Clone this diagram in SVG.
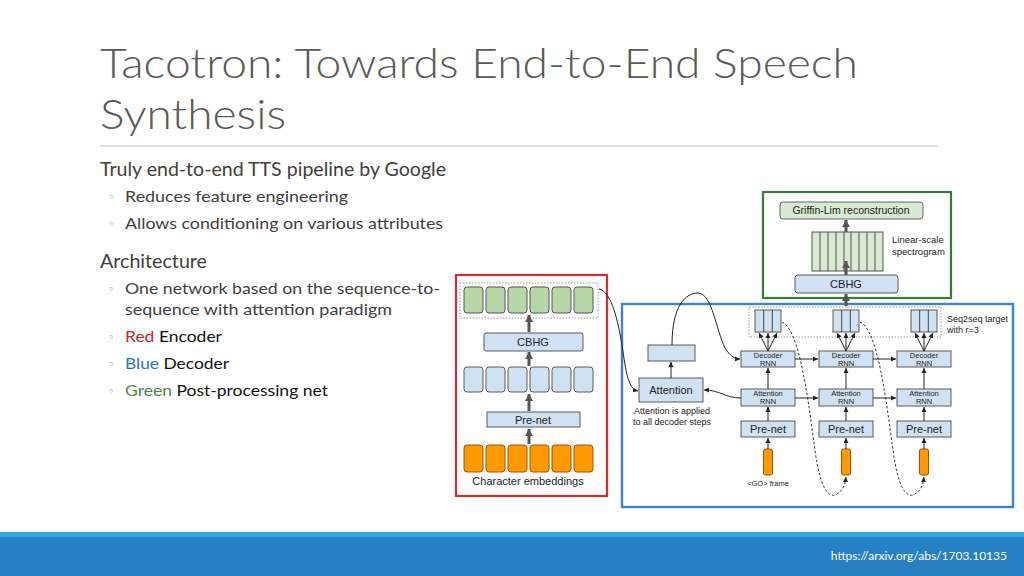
<svg xmlns="http://www.w3.org/2000/svg" width="1024" height="576" viewBox="0 0 1024 576">
<defs>
<style>
.title{font-family:Lato,"Open Sans","Liberation Sans",sans-serif;font-weight:300;font-size:42px;fill:#595959}
.b1{font-family:Lato,"Open Sans","Liberation Sans",sans-serif;font-size:18.5px;fill:#404040}
.b2{font-family:Lato,"Open Sans","Liberation Sans",sans-serif;font-size:16px;fill:#404040}
.bul{font-family:"DejaVu Sans",sans-serif;font-size:11px;fill:#7f7f7f}
.d{font-family:"Liberation Sans",Arial,sans-serif;fill:#222;text-anchor:middle}
.ds{font-family:"Liberation Sans",Arial,sans-serif;fill:#222}
.lb{fill:#cfe2f3;stroke:#5a5a5a;stroke-width:1}
.gr{fill:#b6d7a8;stroke:#555;stroke-width:1}
.lg{fill:#d9ead3;stroke:#666;stroke-width:1}
.or{fill:#ff9900;stroke:#a35200;stroke-width:1}
.thick{stroke:#555;stroke-width:3;fill:none;marker-end:url(#th)}
.thin{stroke:#222;stroke-width:1;fill:none;marker-end:url(#ah)}
.dash{stroke:#333;stroke-width:1;fill:none;stroke-dasharray:2.5,2;marker-end:url(#ah)}
.dot{fill:none;stroke:#999;stroke-width:1;stroke-dasharray:1.5,1.5}
</style>
<marker id="ah" markerWidth="6" markerHeight="6" refX="5" refY="3" orient="auto" markerUnits="userSpaceOnUse">
<path d="M0,0.5 L5,3 L0,5.5 Z" fill="#222"/>
</marker>
<marker id="th" markerWidth="8" markerHeight="8" refX="7" refY="4" orient="auto" markerUnits="userSpaceOnUse">
<path d="M0,0 L7,4 L0,8 Z" fill="#555"/>
</marker>
</defs>
<rect x="0" y="0" width="1024" height="576" fill="#ffffff"/>

<g id="title">
<text class="title" x="100" y="78" textLength="758" lengthAdjust="spacingAndGlyphs">Tacotron: Towards End-to-End Speech</text>
<text class="title" x="100" y="129" textLength="186" lengthAdjust="spacingAndGlyphs">Synthesis</text>
<line x1="100" y1="146" x2="938" y2="146" stroke="#d6d6d6" stroke-width="1.5"/>
</g>

<g id="bullets">
<text class="b1" x="100" y="176" textLength="346" lengthAdjust="spacingAndGlyphs">Truly end-to-end TTS pipeline by Google</text>
<text class="bul" x="108" y="201">◦</text>
<text class="b2" x="125" y="202" textLength="223" lengthAdjust="spacingAndGlyphs">Reduces feature engineering</text>
<text class="bul" x="108" y="228">◦</text>
<text class="b2" x="125" y="229" textLength="318" lengthAdjust="spacingAndGlyphs">Allows conditioning on various attributes</text>
<text class="b1" x="100" y="268" textLength="107" lengthAdjust="spacingAndGlyphs">Architecture</text>
<text class="bul" x="108" y="293">◦</text>
<text class="b2" x="125" y="294" textLength="315" lengthAdjust="spacingAndGlyphs">One network based on the sequence-to-</text>
<text class="b2" x="125" y="315" textLength="267" lengthAdjust="spacingAndGlyphs">sequence with attention paradigm</text>
<text class="bul" x="108" y="341">◦</text>
<text class="b2" x="125" y="342" textLength="97" lengthAdjust="spacingAndGlyphs"><tspan fill="#c0282d">Red</tspan> <tspan fill="#111">Encoder</tspan></text>
<text class="bul" x="108" y="368">◦</text>
<text class="b2" x="125" y="369" textLength="104" lengthAdjust="spacingAndGlyphs"><tspan fill="#2e75b6">Blue</tspan> <tspan fill="#111">Decoder</tspan></text>
<text class="bul" x="108" y="395">◦</text>
<text class="b2" x="125" y="396" textLength="203" lengthAdjust="spacingAndGlyphs"><tspan fill="#4e8a4e">Green</tspan> <tspan fill="#111">Post-processing net</tspan></text>
</g>

<g id="encoder">
<rect x="456" y="275" width="151" height="221" fill="none" stroke="#d32f2f" stroke-width="2.2"/>
<rect class="dot" x="460" y="283" width="138" height="35"/>
<g>
<rect class="gr" x="464" y="287" width="19" height="26" rx="3"/>
<rect class="gr" x="486" y="287" width="19" height="26" rx="3"/>
<rect class="gr" x="508" y="287" width="19" height="26" rx="3"/>
<rect class="gr" x="530" y="287" width="19" height="26" rx="3"/>
<rect class="gr" x="552" y="287" width="19" height="26" rx="3"/>
<rect class="gr" x="574" y="287" width="19" height="26" rx="3"/>
</g>
<rect class="lb" x="484" y="333" width="99" height="18" rx="2"/>
<text class="d" x="533" y="346" font-size="11">CBHG</text>
<g>
<rect class="lb" x="464" y="367" width="19" height="25" rx="3"/>
<rect class="lb" x="486" y="367" width="19" height="25" rx="3"/>
<rect class="lb" x="508" y="367" width="19" height="25" rx="3"/>
<rect class="lb" x="530" y="367" width="19" height="25" rx="3"/>
<rect class="lb" x="552" y="367" width="19" height="25" rx="3"/>
<rect class="lb" x="574" y="367" width="19" height="25" rx="3"/>
</g>
<rect class="lb" x="487" y="412" width="93" height="15"/>
<text class="d" x="533" y="424" font-size="11">Pre-net</text>
<g>
<rect class="or" x="464" y="445" width="19" height="27" rx="3"/>
<rect class="or" x="486" y="445" width="19" height="27" rx="3"/>
<rect class="or" x="508" y="445" width="19" height="27" rx="3"/>
<rect class="or" x="530" y="445" width="19" height="27" rx="3"/>
<rect class="or" x="552" y="445" width="19" height="27" rx="3"/>
<rect class="or" x="574" y="445" width="19" height="27" rx="3"/>
</g>
<text class="d" x="528" y="485" font-size="11">Character embeddings</text>
</g>

<g id="postnet">
<rect x="763" y="192" width="188" height="106" fill="none" stroke="#3b7a3b" stroke-width="2.2"/>
<rect class="lg" x="780" y="202" width="143" height="17" rx="3"/>
<text class="d" x="851" y="214" font-size="10.5">Griffin-Lim reconstruction</text>
<rect x="812" y="232" width="71" height="39" fill="#d9ead3" stroke="#555" stroke-width="1"/>
<path d="M820,232V271M828,232V271M836,232V271M844,232V271M851,232V271M859,232V271M867,232V271M875,232V271" stroke="#444" stroke-width="0.9"/>
<text class="ds" x="892" y="243" font-size="9.5">Linear-scale</text>
<text class="ds" x="892" y="255" font-size="9.5">spectrogram</text>
<rect class="lb" x="795" y="275" width="103" height="18" rx="3"/>
<text class="d" x="846" y="288" font-size="11">CBHG</text>
</g>

<g id="decoder">
<rect x="622" y="304" width="391" height="203" fill="none" stroke="#3d85c6" stroke-width="2.4"/>
<rect class="dot" x="749" y="307" width="192" height="30"/>
<text class="ds" x="947" y="322" font-size="9">Seq2seq target</text>
<text class="ds" x="947" y="333" font-size="9">with r=3</text>
<rect class="lb" x="648" y="345" width="47" height="16"/>
<rect class="lb" x="639" y="378" width="64" height="24"/>
<text class="d" x="671" y="394" font-size="11">Attention</text>
<text class="d" x="672" y="414" font-size="9">Attention is applied</text>
<text class="d" x="672" y="425" font-size="9">to all decoder steps</text>
<g id="step1">
<rect class="lb" x="755" y="310" width="26" height="22"/>
<path d="M763.7,310V332M772.3,310V332" stroke="#444" stroke-width="1"/>
<rect class="lb" x="741" y="351" width="54" height="16"/>
<text class="d" x="768" y="358" font-size="7.5">Decoder</text>
<text class="d" x="768" y="366" font-size="7.5">RNN</text>
<rect class="lb" x="741" y="389" width="54" height="17"/>
<text class="d" x="768" y="396" font-size="7.5">Attention</text>
<text class="d" x="768" y="404" font-size="7.5">RNN</text>
<rect class="lb" x="741" y="421" width="54" height="16"/>
<text class="d" x="768" y="433" font-size="11">Pre-net</text>
<rect class="or" x="763.5" y="449" width="9" height="26" rx="2"/>
<text class="d" x="768" y="486" font-size="7.5">&lt;GO&gt; frame</text>
</g>
<g id="step2">
<rect class="lb" x="833" y="310" width="26" height="22"/>
<path d="M841.7,310V332M850.3,310V332" stroke="#444" stroke-width="1"/>
<rect class="lb" x="819" y="351" width="54" height="16"/>
<text class="d" x="846" y="358" font-size="7.5">Decoder</text>
<text class="d" x="846" y="366" font-size="7.5">RNN</text>
<rect class="lb" x="819" y="389" width="54" height="17"/>
<text class="d" x="846" y="396" font-size="7.5">Attention</text>
<text class="d" x="846" y="404" font-size="7.5">RNN</text>
<rect class="lb" x="819" y="421" width="54" height="16"/>
<text class="d" x="846" y="433" font-size="11">Pre-net</text>
<rect class="or" x="841.5" y="449" width="9" height="26" rx="2"/>
</g>
<g id="step3">
<rect class="lb" x="911" y="310" width="26" height="22"/>
<path d="M919.7,310V332M928.3,310V332" stroke="#444" stroke-width="1"/>
<rect class="lb" x="897" y="351" width="54" height="16"/>
<text class="d" x="924" y="358" font-size="7.5">Decoder</text>
<text class="d" x="924" y="366" font-size="7.5">RNN</text>
<rect class="lb" x="897" y="389" width="54" height="17"/>
<text class="d" x="924" y="396" font-size="7.5">Attention</text>
<text class="d" x="924" y="404" font-size="7.5">RNN</text>
<rect class="lb" x="897" y="421" width="54" height="16"/>
<text class="d" x="924" y="433" font-size="11">Pre-net</text>
<rect class="or" x="919.5" y="449" width="9" height="26" rx="2"/>
</g>
</g>

<g id="connectors">
<path class="thick" d="M529,444V429"/>
<path class="thick" d="M529,411V394"/>
<path class="thick" d="M529,366V352"/>
<path class="thick" d="M529,332V315"/>
<path class="thick" d="M846,306V294"/>
<path class="thick" d="M846,275V261"/>
<path class="thick" d="M846,232V220"/>
<path class="thin" d="M599,289C612,292 618,322 622,345C626,372 628,389 638,391"/>
<path class="thin" d="M671,378V362"/>
<path class="thin" d="M672,345C672,305 686,293 698,293C712,293 716,330 725,348C730,356 735,359 740,359"/>
<path class="thin" d="M741,398C725,398 720,390 704,390"/>
<path class="thin" d="M768,449V438"/><path class="thin" d="M768,421V407"/><path class="thin" d="M768,389V368"/>
<path class="thin" d="M846,449V438"/><path class="thin" d="M846,421V407"/><path class="thin" d="M846,389V368"/>
<path class="thin" d="M924,449V438"/><path class="thin" d="M924,421V407"/><path class="thin" d="M924,389V368"/>
<path class="thin" d="M795,359H818"/><path class="thin" d="M795,398H818"/>
<path class="thin" d="M873,359H896"/><path class="thin" d="M873,398H896"/>
<path class="thin" d="M768,351L759,333"/><path class="thin" d="M768,351V333"/><path class="thin" d="M768,351L777,333"/>
<path class="thin" d="M846,351L837,333"/><path class="thin" d="M846,351V333"/><path class="thin" d="M846,351L855,333"/>
<path class="thin" d="M924,351L915,333"/><path class="thin" d="M924,351V333"/><path class="thin" d="M924,351L933,333"/>
<path class="dash" d="M782,322C800,330 808,400 815,450C820,488 828,497 835,495C842,492 845,486 846,477"/>
<path class="dash" d="M860,322C878,330 886,400 893,450C898,488 906,497 913,495C920,492 923,486 924,477"/>
</g>

<g id="footer">
<rect x="0" y="532" width="1024" height="6" fill="#33a7df"/>
<rect x="0" y="537" width="1024" height="39" fill="#2780c3"/>
<text x="1007" y="560" font-family="Lato,'Open Sans','Liberation Sans',sans-serif" font-size="12" fill="#ffffff" text-anchor="end">https://arxiv.org/abs/1703.10135</text>
</g>
</svg>
